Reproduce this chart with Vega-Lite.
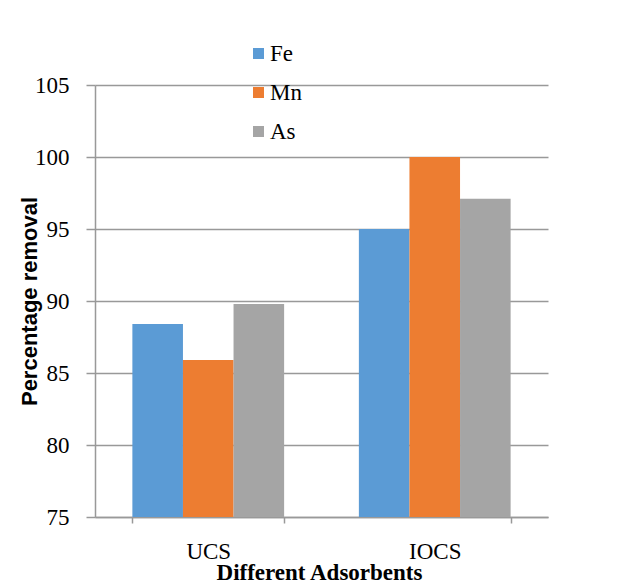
{
  "$schema": "https://vega.github.io/schema/vega-lite/v6.json",
  "width": 453,
  "height": 432,
  "autosize": {"type": "none"},
  "padding": {"left": 95, "top": 85, "right": 93, "bottom": 68},
  "background": "white",
  "data": {
    "values": [
      {"adsorbent": "UCS", "metal": "Fe", "removal": 88.4},
      {"adsorbent": "UCS", "metal": "Mn", "removal": 85.9},
      {"adsorbent": "UCS", "metal": "As", "removal": 89.8},
      {"adsorbent": "IOCS", "metal": "Fe", "removal": 95.0},
      {"adsorbent": "IOCS", "metal": "Mn", "removal": 100.0},
      {"adsorbent": "IOCS", "metal": "As", "removal": 97.1}
    ]
  },
  "mark": {"type": "bar", "clip": true},
  "encoding": {
    "x": {
      "field": "adsorbent",
      "type": "nominal",
      "sort": ["UCS", "IOCS"],
      "scale": {"paddingInner": 0.33, "paddingOuter": 0.165},
      "axis": {
        "title": "Different Adsorbents",
        "titleFont": "Liberation Serif, Times New Roman, serif",
        "titleFontSize": 23,
        "titleFontWeight": "bold",
        "titleColor": "black",
        "titleX": 224,
        "titleY": 62,
        "titleBaseline": "alphabetic",
        "titleAlign": "center",
        "labelAngle": 0,
        "labelFont": "Liberation Serif, Times New Roman, serif",
        "labelFontSize": 23,
        "labelColor": "black",
        "labelPadding": 17,
        "tickBand": "extent",
        "tickSize": 6,
        "tickColor": "#999999",
        "tickWidth": 1.5,
        "domainColor": "#999999",
        "domainWidth": 1.5,
        "grid": false
      }
    },
    "xOffset": {"field": "metal", "type": "nominal", "sort": ["Fe", "Mn", "As"]},
    "y": {
      "field": "removal",
      "type": "quantitative",
      "scale": {"domain": [75, 105], "nice": false, "zero": false},
      "axis": {
        "title": "Percentage removal",
        "titleFont": "Liberation Sans, Arial, sans-serif",
        "titleFontSize": 22,
        "titleFontWeight": "bold",
        "titleColor": "black",
        "titleAngle": -90,
        "titleX": -66,
        "titleY": 216,
        "titleAlign": "center",
        "titleBaseline": "middle",
        "values": [75, 80, 85, 90, 95, 100, 105],
        "labelFont": "Liberation Serif, Times New Roman, serif",
        "labelFontSize": 23,
        "labelColor": "black",
        "labelPadding": 17,
        "tickSize": 9,
        "tickColor": "#999999",
        "tickWidth": 1.5,
        "domainColor": "#999999",
        "domainWidth": 1.5,
        "gridColor": "#999999",
        "gridWidth": 1.5
      }
    },
    "color": {
      "field": "metal",
      "type": "nominal",
      "sort": ["Fe", "Mn", "As"],
      "scale": {"domain": ["Fe", "Mn", "As"], "range": ["#5B9BD5", "#ED7D31", "#A5A5A5"]},
      "legend": {
        "title": null,
        "orient": "none",
        "legendX": 152,
        "legendY": -43,
        "padding": 0,
        "symbolType": "square",
        "symbolSize": 121,
        "symbolStrokeWidth": 0,
        "labelFont": "Liberation Serif, Times New Roman, serif",
        "labelFontSize": 23,
        "labelColor": "black",
        "labelOffset": 0,
        "rowPadding": 15,
        "labelLimit": 200,
        "encode": {
          "labels": {
            "update": {
              "font": {"value": "Liberation Serif, Times New Roman, serif"},
              "fontSize": {"value": 23},
              "fill": {"value": "black"}
            }
          }
        }
      }
    }
  },
  "config": {
    "view": {"stroke": null}
  }
}
